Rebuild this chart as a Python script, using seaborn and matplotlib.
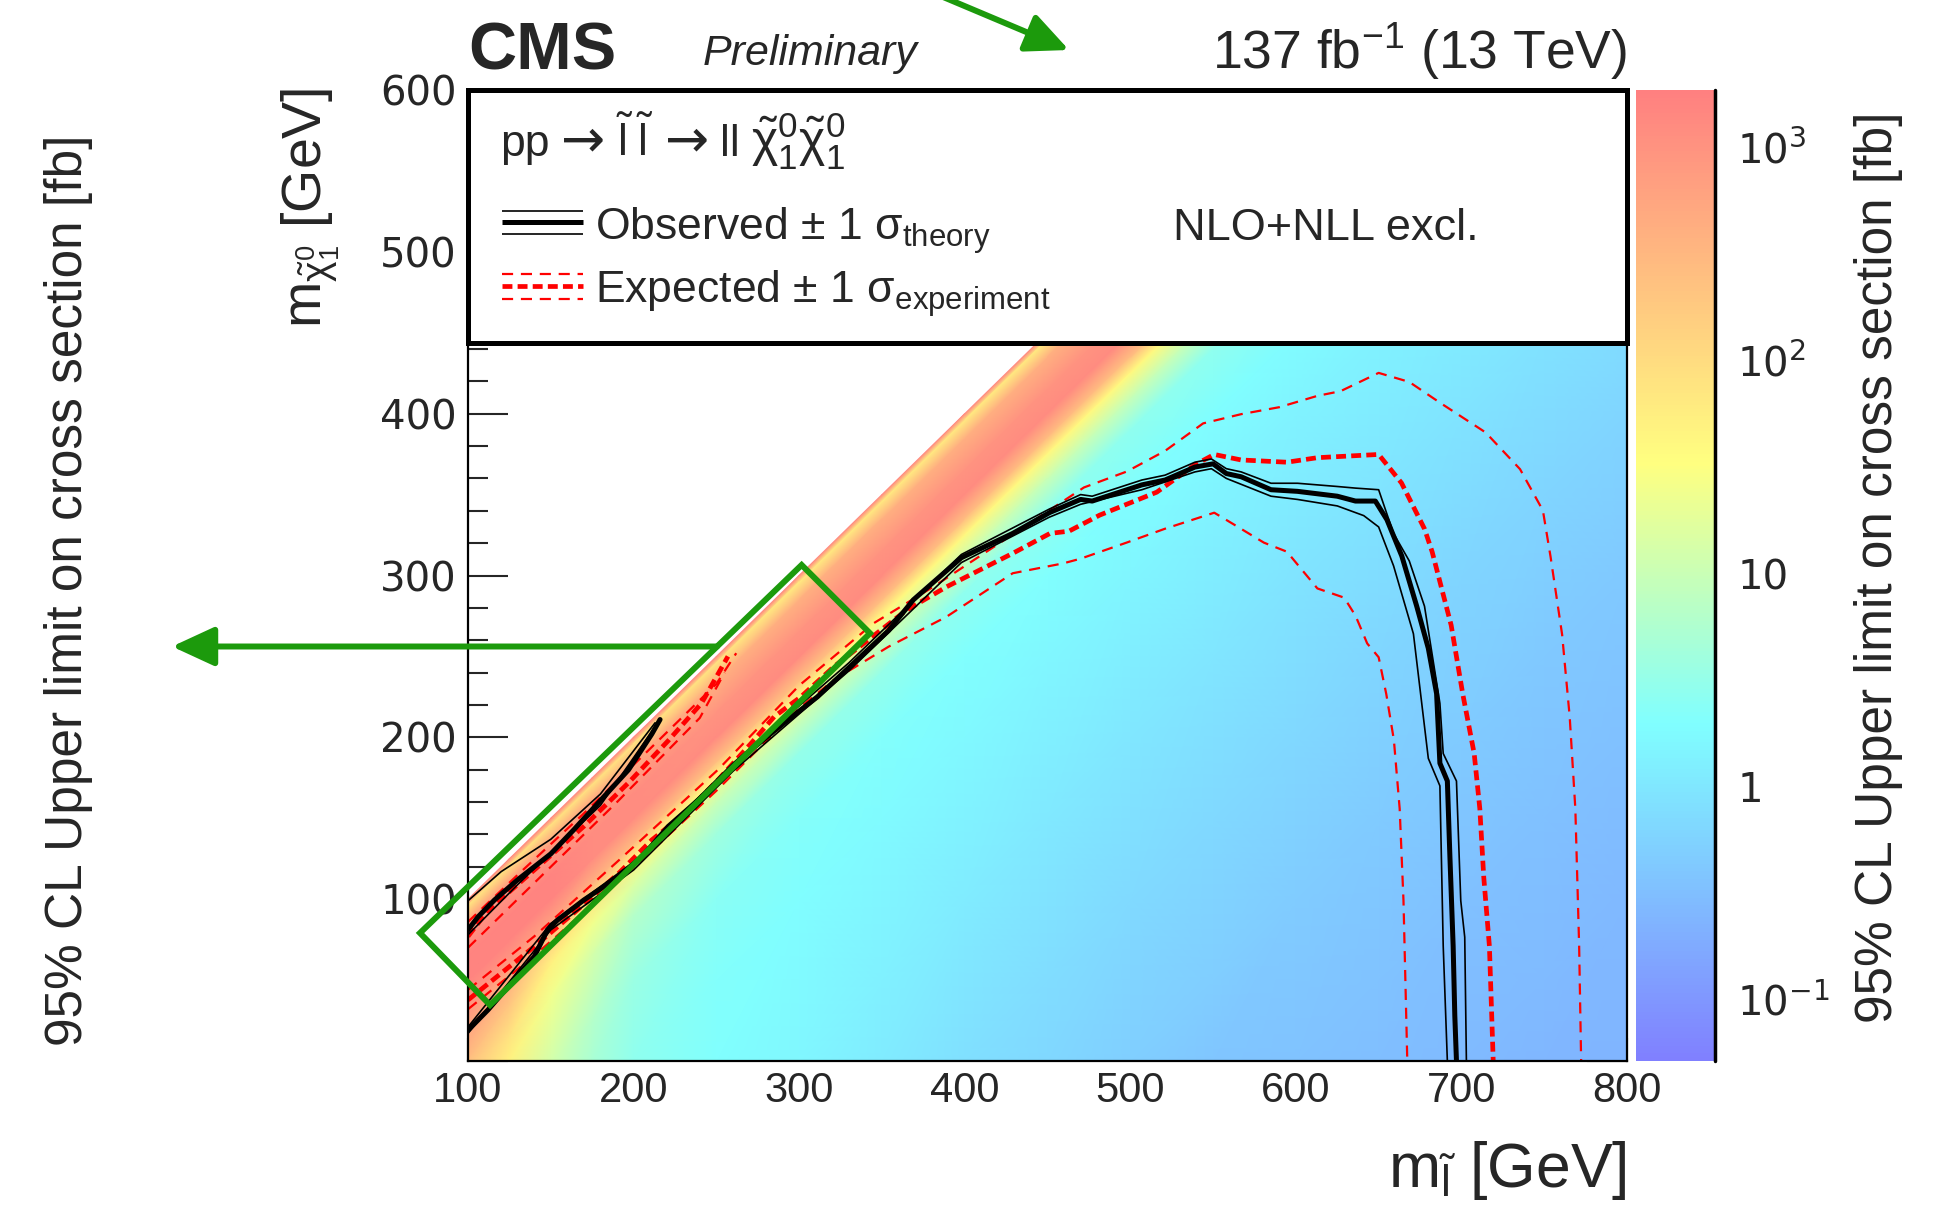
import numpy as np
import matplotlib
matplotlib.use("Agg")
import matplotlib.pyplot as plt
import matplotlib.tri as mtri
import matplotlib.cm as cm
from matplotlib.colors import LinearSegmentedColormap, Normalize, LogNorm
from matplotlib.ticker import MultipleLocator, LogLocator, NullFormatter
from matplotlib.patches import Rectangle, Polygon, FancyArrowPatch
import seaborn as sns

# ---------------- data ----------------
# heat map: log10(95% CL upper limit [fb]) on nodes (m_slepton, delta m = m_slepton - m_chi)
X_NODES = [100, 125, 150, 175, 200, 250, 300, 350, 400, 450, 500, 550, 600, 650, 700, 750, 800]
DM_NODES = [0, 4, 15, 35, 50, 65, 75, 90, 110, 150, 200, 300, 400, 500, 600, 700]
N = None
LOG_LIMIT = [
    [3.2, 1.9, 2.9, 3.2, 3.2, 3.0, 2.8, 2.6, N, N, N, N, N, N, N, N],
    [3.2, 1.9, 2.9, 3.2, 3.2, 2.9, 2.6, 2.3, 1.9, N, N, N, N, N, N, N],
    [3.2, 1.9, 2.8, 3.2, 3.2, 2.8, 2.2, 1.7, 1.4, N, N, N, N, N, N, N],
    [3.2, 1.9, 2.8, 3.1, 3.1, 2.6, 1.9, 1.4, 1.1, 0.8, N, N, N, N, N, N],
    [3.2, 1.9, 2.7, 3.1, 3.1, 2.5, 1.7, 1.2, 0.8, 0.55, N, N, N, N, N, N],
    [3.2, 1.9, 2.6, 3.0, 3.1, 2.4, 1.6, 1.0, 0.6, 0.4, 0.32, N, N, N, N, N],
    [3.2, 1.8, 2.6, 3.0, 3.1, 2.4, 1.6, 1.0, 0.5, 0.35, 0.28, N, N, N, N, N],
    [3.2, 1.8, 2.6, 3.0, 3.1, 2.4, 1.6, 1.0, 0.5, 0.33, 0.26, 0.12, N, N, N, N],
    [3.2, 1.8, 2.6, 3.0, 3.1, 2.4, 1.6, 1.0, 0.45, 0.3, 0.22, 0.05, N, N, N, N],
    [3.2, 1.8, 2.6, 3.0, 3.1, 2.4, 1.6, 1.0, 0.45, 0.3, 0.2, 0.02, -0.12, N, N, N],
    [3.2, 1.8, 2.6, 3.0, 3.1, 2.4, 1.6, 1.0, 0.45, 0.28, 0.18, 0.0, -0.15, N, N, N],
    [3.2, 1.8, 2.6, 3.0, 3.1, 2.4, 1.6, 1.0, 0.45, 0.28, 0.16, -0.02, -0.18, -0.32, N, N],
    [3.2, 1.8, 2.6, 3.0, 3.1, 2.4, 1.6, 1.0, 0.45, 0.27, 0.15, -0.03, -0.2, -0.33, N, N],
    [3.2, 1.8, 2.6, 3.0, 3.1, 2.4, 1.6, 1.0, 0.45, 0.27, 0.15, -0.04, -0.21, -0.35, -0.45, N],
    [3.2, 1.8, 2.6, 3.0, 3.1, 2.4, 1.6, 1.0, 0.45, 0.27, 0.14, -0.04, -0.22, -0.36, -0.47, N],
    [3.2, 1.8, 2.6, 3.0, 3.1, 2.4, 1.6, 1.0, 0.45, 0.27, 0.14, -0.05, -0.23, -0.37, -0.48, -0.55],
    [3.2, 1.8, 2.6, 3.0, 3.1, 2.4, 1.6, 1.0, 0.45, 0.27, 0.14, -0.05, -0.23, -0.37, -0.48, -0.56],
]
# values on the m_chi = 0 row
BOTTOM_LOG_LIMIT = [2.4, 1.7, 1.1, 0.7, 0.45, 0.3, 0.2, 0.05, -0.08, -0.2, -0.3, -0.4, -0.45, -0.5,
                    -0.55, -0.6, -0.62]
Z_MIN, Z_MAX = 0.0516, 1860.0

# observed contour (central, lower branch)
OBS_X = [100, 112, 126, 140, 148, 154, 170, 191, 205, 221, 241, 261, 273, 291, 311, 331, 354, 369,
         398, 429, 451.5, 470, 477, 507, 521, 539, 550, 558, 567, 585, 601, 625, 636, 648, 655, 664,
         673, 680, 685, 687, 691.5, 693, 695, 696, 697]
OBS_Y = [19, 31.5, 48, 64.5, 81, 87, 99.5, 114, 126, 145, 163, 182, 194, 209, 225, 244, 266, 285,
         311, 326, 339, 347, 346, 356, 359, 367, 369, 363, 361, 353, 352, 349, 346, 346, 334.5, 312,
         281, 255, 227, 184, 173, 127.5, 71, 28, 0]
OBS_P_X = [100, 150, 200, 260, 330, 398, 451, 470, 477, 507, 521, 539, 549, 558, 567, 585, 601,
           625, 636, 650, 659, 668.5, 677.7, 687, 689, 697, 699.6, 702, 703]
OBS_P_Y = [21, 85, 123, 184, 246, 313, 341, 350, 349, 359, 362, 370, 372, 366, 364, 357, 357, 355,
           354, 353, 326, 309, 281, 221, 190, 173, 99, 76.5, 0]
OBS_M_X = [100, 150, 200, 260, 330, 398, 451, 470, 507, 539, 549, 558, 585, 601, 625, 641, 650,
           659, 671, 680, 687, 689, 691.5]
OBS_M_Y = [17, 81, 118, 179, 241, 308, 336, 344, 353, 364, 366, 360, 349, 347, 343, 337, 330, 306,
           264, 187, 170, 71, 0]
# observed contour, upper (diagonal) branch
OBS_UP_X = [100, 106, 116, 130, 150, 164, 180, 197, 211, 216]
OBS_UP_Y = [81, 89, 99.5, 112, 128, 143, 161, 180, 202, 211]
OBS_UP_P_X = [100, 120, 150, 180, 213]
OBS_UP_P_Y = [99, 117, 137, 165, 209]
OBS_UP_M_X = [100, 130, 180, 214]
OBS_UP_M_Y = [78, 109, 158, 208]

# expected contour (central)
EXP_X = [100, 120, 140, 166, 191, 211, 231, 251, 271, 285, 301, 321, 365, 389, 429, 451.5, 463,
         481.5, 516, 539.2, 550.7, 566.9, 594.6, 613, 650, 663.8, 677.7, 682.3, 693.8, 700.8,
         707.7, 711.1, 713.5, 716.9, 719.2]
EXP_Y = [37.7, 54.2, 70.7, 93.3, 116, 136.6, 153, 173.7, 196.3, 212.8, 225, 243.7, 278.7, 293,
         313.7, 326, 327.4, 337.3, 351.5, 368.5, 374.8, 371.4, 370, 372.8, 374.8, 357.2, 328.8,
         314.7, 269.3, 226.8, 190, 156, 113.4, 70.9, 0]
EXP_P_X = [100, 140, 190, 251, 300, 345, 381, 421, 472, 498, 521, 544, 567, 590, 613, 627, 650,
           668.5, 687, 714.6, 735.4, 749.2, 753.8, 760.8, 765.4, 768.8, 771.1, 772.3]
EXP_P_Y = [44, 77, 123, 180, 232, 270.5, 293, 320, 354.4, 364.3, 377, 394, 399.7, 404, 411,
           413.9, 425.2, 419.6, 406.8, 388.4, 365.7, 340.2, 311.8, 263.6, 212.6, 155.9, 70.9, 0]
EXP_M_X = [100, 140, 190, 250, 300, 321, 354, 389, 429, 459.5, 470, 497.7, 520.7, 550.7, 562.3,
           571.5, 580.7, 594.6, 613, 629.2, 636.1, 643.1, 650, 654.6, 659.2, 662.7, 665, 667.3]
EXP_M_Y = [32, 65, 110, 167, 218, 235.5, 256, 274.5, 301.4, 307.5, 310.4, 320.3, 328.8, 338.8,
           331.7, 326, 320.3, 314.7, 292, 286.3, 275, 258, 249.5, 226.8, 198.4, 155.9, 99.2, 0]
# expected contour, upper (diagonal) branch
EXP_UP_X = [100, 112, 140, 170, 197, 221, 241, 257]
EXP_UP_Y = [77, 93, 118, 145, 172, 198, 221, 250]
EXP_UP_P_X = [100, 130, 170, 210, 250, 262]
EXP_UP_P_Y = [86, 115, 153, 193, 233, 252]
EXP_UP_M_X = [100, 140, 190, 240, 255]
EXP_UP_M_Y = [70, 110, 160, 212, 240]

X_TICKS = [100, 200, 300, 400, 500, 600, 700, 800]
Y_TICKS = [0, 100, 200, 300, 400, 500, 600]
Y_TICK_LABELS = ["", "100", "200", "300", "400", "500", "600"]
CB_TICKS = [0.1, 1, 10, 100, 1000]
CB_TICK_LABELS = [r"$10^{-1}$", "1", "10", r"$10^{2}$", r"$10^{3}$"]

# green highlight box (data coordinates)
BOX_X = [71, 301.5, 342.8, 113.3]
BOX_Y = [79.1, 306.5, 264.3, 34.6]

# ---------------- style ----------------
sns.set_theme(style="ticks")
plt.rcParams["font.family"] = ["Liberation Sans", "DejaVu Sans"]
plt.rcParams["mathtext.fontset"] = "custom"
plt.rcParams["mathtext.rm"] = "Liberation Sans"
plt.rcParams["mathtext.it"] = "Liberation Sans:italic"
plt.rcParams["mathtext.bf"] = "Liberation Sans:bold"
plt.rcParams["mathtext.sf"] = "Liberation Sans"
plt.rcParams["axes.facecolor"] = "white"

W, H = 1957, 1211
fig = plt.figure(figsize=(W / 100, H / 100), dpi=100)


def fx(px):
    return px / W


def fy(py):
    return 1 - py / H


ax = fig.add_axes([fx(468), fy(1061), (1627 - 468) / W, (1061 - 90) / H])
cax = fig.add_axes([fx(1636), fy(1061), (1715 - 1636) / W, (1061 - 90) / H])

cmap = LinearSegmentedColormap.from_list(
    "pastel_rainbow",
    [(0.0, "#8080ff"), (0.347, "#80ffff"), (0.616, "#ffff80"), (1.0, "#ff8080")],
)

# ---------------- heat map ----------------
nx_, ndm_, nz_ = [], [], []
for j, x in enumerate(X_NODES):
    for k, dm in enumerate(DM_NODES):
        v = LOG_LIMIT[j][k]
        if v is None or x - dm <= 0:
            continue
        nx_.append(x)
        ndm_.append(dm)
        nz_.append(v)
    nx_.append(x)
    ndm_.append(float(x))
    nz_.append(BOTTOM_LOG_LIMIT[j])
nx_ = np.array(nx_, float)
ndm_ = np.array(ndm_, float)
# triangulate in (m_slepton, delta m) space, then place nodes at (m_slepton, m_chi)
tri_dm = mtri.Triangulation(nx_, ndm_)
tri = mtri.Triangulation(nx_, nx_ - ndm_, triangles=tri_dm.triangles)
ax.tripcolor(tri, nz_, shading="gouraud", cmap=cmap,
             norm=Normalize(np.log10(Z_MIN), np.log10(Z_MAX)), zorder=1, rasterized=True)

# ---------------- contours ----------------
RED = "#ff0000"


def draw(xs, ys, color, lw, dashes=None, z=3):
    sns.lineplot(x=xs, y=ys, sort=False, estimator=None, color=color, linewidth=lw, ax=ax,
                 zorder=z)
    line = ax.lines[-1]
    if dashes is not None:
        line.set_dashes(dashes)
    line.set_dash_capstyle("butt")
    line.set_solid_joinstyle("round")
    return line


for xs, ys in [(EXP_P_X, EXP_P_Y), (EXP_M_X, EXP_M_Y), (EXP_UP_P_X, EXP_UP_P_Y),
               (EXP_UP_M_X, EXP_UP_M_Y)]:
    draw(xs, ys, RED, 1.6, dashes=(5, 3.5))
for xs, ys in [(EXP_X, EXP_Y), (EXP_UP_X, EXP_UP_Y)]:
    draw(xs, ys, RED, 3.4, dashes=(2.1, 1.1))
for xs, ys in [(OBS_P_X, OBS_P_Y), (OBS_M_X, OBS_M_Y), (OBS_UP_P_X, OBS_UP_P_Y),
               (OBS_UP_M_X, OBS_UP_M_Y)]:
    draw(xs, ys, "black", 1.2)
for xs, ys in [(OBS_X, OBS_Y), (OBS_UP_X, OBS_UP_Y)]:
    draw(xs, ys, "black", 3.6)

# ---------------- axes ----------------
ax.set_xlim(100, 800)
ax.set_ylim(0, 600)
ax.set_xticks(X_TICKS)
ax.set_yticks(Y_TICKS)
ax.set_yticklabels(Y_TICK_LABELS)
ax.xaxis.set_minor_locator(MultipleLocator(20))
ax.yaxis.set_minor_locator(MultipleLocator(20))
ax.tick_params(axis="y", which="major", direction="in", length=29, width=1.5, left=True,
               right=True, labelsize=29, pad=8)
ax.tick_params(axis="y", which="minor", direction="in", length=14.5, width=1.5, left=True,
               right=True)
ax.tick_params(axis="x", which="major", direction="in", length=16.5, width=1.5, bottom=True,
               top=False, labelsize=30, pad=7)
ax.tick_params(axis="x", which="minor", direction="in", length=8, width=1.5, bottom=True,
               top=False)
for lab in ax.get_yticklabels():
    lab.set_fontfamily("DejaVu Sans")
for sp in ax.spines.values():
    sp.set_linewidth(1.6)
    sp.set_color("black")
    sp.set_zorder(4)
ax.set_xlabel("")
ax.set_ylabel("")

# legend box
ax.add_patch(Rectangle((100, 443.7), 700, 156.3, facecolor="white", edgecolor="black", lw=3.6,
                       zorder=5, clip_on=False))

renderer = fig.canvas.get_renderer()
PROCESS_PIECES = [
    ("pp", "Liberation Sans", 32),
    ("\u2192", "DejaVu Sans", 38),
    (r"$\tilde{\mathrm{l}}\;\tilde{\mathrm{l}}$", "Liberation Sans", 32),
    ("\u2192", "DejaVu Sans", 38),
    ("ll", "Liberation Sans", 32),
    (r"$\tilde{\mathrm{\chi}}^{0}_{1}\tilde{\mathrm{\chi}}^{0}_{1}$", "Liberation Sans", 36),
]
xpos = 500.0
for piece, fam, fsz in PROCESS_PIECES:
    t = fig.text(fx(xpos), fy(156), piece, fontsize=fsz, family=fam, ha="left", va="baseline",
                 zorder=6)
    bb = t.get_window_extent(renderer)
    xpos = bb.x1 + 11

LX = [120.5, 169.5]
ax.plot(LX, [518.4, 518.4], color="black", lw=3.6, zorder=6, solid_capstyle="butt")
ax.plot(LX, [525.2, 525.2], color="black", lw=1.2, zorder=6, solid_capstyle="butt")
ax.plot(LX, [510.8, 510.8], color="black", lw=1.2, zorder=6, solid_capstyle="butt")
ax.plot(LX, [478.9, 478.9], color=RED, lw=3.4, zorder=6, dashes=(2.1, 1.1),
        dash_capstyle="butt")
ax.plot(LX, [486.4, 486.4], color=RED, lw=1.6, zorder=6, dashes=(5, 3.5), dash_capstyle="butt")
ax.plot(LX, [470.8, 470.8], color=RED, lw=1.6, zorder=6, dashes=(5, 3.5), dash_capstyle="butt")
ax.text(176.7, 507.3, r"Observed $\pm$ 1 $\mathrm{\sigma}_{\mathrm{theory}}$", fontsize=32,
        va="baseline", ha="left", zorder=6)
ax.text(176.7, 468.4, r"Expected $\pm$ 1 $\mathrm{\sigma}_{\mathrm{experiment}}$", fontsize=32,
        va="baseline", ha="left", zorder=6)
ax.text(525.8, 507.3, "NLO+NLL excl.", fontsize=32.5, va="baseline", ha="left", zorder=6)

# ---------------- colour bar ----------------
sm = cm.ScalarMappable(norm=LogNorm(Z_MIN, Z_MAX), cmap=cmap)
cbar = fig.colorbar(sm, cax=cax)
cbar.outline.set_visible(False)
cbar.set_ticks(CB_TICKS, labels=CB_TICK_LABELS)
cax.yaxis.set_minor_locator(LogLocator(base=10, subs=np.arange(2, 10)))
cax.yaxis.set_minor_formatter(NullFormatter())
cax.tick_params(which="major", direction="in", length=28, width=1.5, right=True, left=False,
                labelsize=29, pad=16)
cax.tick_params(which="minor", direction="in", length=13, width=1.5, right=True, left=False)
for lab in cax.get_yticklabels():
    lab.set_fontfamily("DejaVu Sans")
    lab.set_math_fontfamily("dejavusans")
cax.plot([1, 1], [0, 1], transform=cax.transAxes, color="black", lw=2.5, clip_on=False)

# ---------------- titles ----------------
fig.text(fx(468), fy(69), "CMS", fontsize=48, fontweight="bold", ha="left", va="baseline")
fig.text(fx(703), fy(65), "Preliminary", fontsize=31, fontstyle="italic", ha="left",
         va="baseline")
fig.text(fx(1627), fy(69), r"137 fb$^{-1}$ (13 TeV)", fontsize=38.5, ha="right", va="baseline")
fig.text(fx(1627), fy(1187), r"m$_{\tilde{\mathrm{l}}}$ [GeV]", fontsize=45, ha="right",
         va="baseline")
fig.text(fx(321), fy(88), r"m$_{\tilde{\mathrm{\chi}}^{0}_{1}}$ [GeV]", fontsize=40,
         rotation=90, rotation_mode="anchor", ha="right", va="baseline")
fig.text(fx(1892), fy(112), "95% CL Upper limit on cross section [fb]", fontsize=37,
         rotation=90, rotation_mode="anchor", ha="right", va="baseline")
fig.text(fx(82), fy(135), "95% CL Upper limit on cross section [fb]", fontsize=37,
         rotation=90, rotation_mode="anchor", ha="right", va="baseline")

# ---------------- green annotations ----------------
GREEN = "#1c9a0c"
ax.add_patch(Polygon(list(zip(BOX_X, BOX_Y)), closed=True, fill=False, edgecolor=GREEN, lw=4.3,
                     zorder=10, clip_on=False, joinstyle="miter"))
fig.add_artist(FancyArrowPatch((fx(717), fy(646.5)), (fx(172), fy(646.5)),
                               transform=fig.transFigure, arrowstyle="-|>,head_length=1.3,head_width=0.6",
                               mutation_scale=20, color=GREEN, lw=4.3, shrinkA=0, shrinkB=0,
                               zorder=10))
fig.add_artist(FancyArrowPatch((fx(936), fy(-6)), (fx(1069), fy(50)),
                               transform=fig.transFigure, arrowstyle="-|>,head_length=1.3,head_width=0.6",
                               mutation_scale=20, color=GREEN, lw=4.3, shrinkA=0, shrinkB=0,
                               zorder=10))

fig.savefig("out.png", dpi=100)
